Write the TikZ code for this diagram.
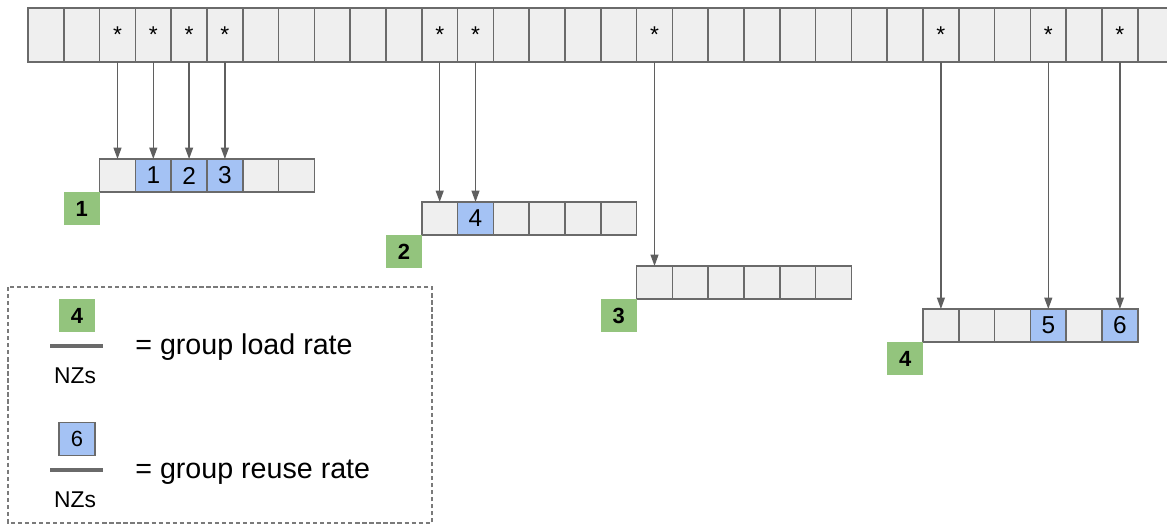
\documentclass[tikz,border=0pt]{standalone}
\usepackage{fontspec}
\setmainfont{Liberation Sans}
\usetikzlibrary{arrows.meta,positioning}
\definecolor{cCell}{HTML}{EFEFEF}
\definecolor{cEdge}{HTML}{6A6A6A}
\definecolor{cNZ}{HTML}{A4C2F4}
\definecolor{cGroup}{HTML}{93C47D}
\definecolor{cArrow}{HTML}{5F5F5F}
\definecolor{cFrame}{HTML}{7A7A7A}

\tikzset{
  cell/.style={draw=cEdge, fill=cCell, line width=0.85pt, inner sep=0pt,
    outer sep=0pt, minimum width=0.716cm},
  topcell/.style={cell, minimum height=1.08cm},
  grpcell/.style={cell, minimum height=0.66cm, font=\fontsize{13.9}{14}\selectfont},
  nzcell/.style={grpcell, fill=cNZ},
  starmark/.style={inner sep=0pt, font=\fontsize{13}{13}\selectfont},
  badge/.style={fill=cGroup, inner sep=0pt, outer sep=0pt, minimum width=0.716cm,
    minimum height=0.66cm, font=\fontsize{12.5}{12.5}\selectfont\bfseries},
  fetch/.style={draw=cArrow, line width=0.85pt, -{Triangle[width=4.5pt,length=6.5pt]}},
  keytext/.style={anchor=base west, inner sep=0pt, font=\fontsize{16.3}{17}\selectfont},
  nzs/.style={anchor=base, inner sep=0pt, font=\fontsize{13}{13}\selectfont},
}

\begin{document}
\begin{tikzpicture}[x=0.02cm, y=-0.02cm]

  % ---- page frame (1 unit = 1 px of the reference) ----
  \clip (0,0) rectangle (1167,525);

  % ---- input row: 32 cells, left edge x=28, runs off the right edge ----
  \foreach \i in {0,...,31}{
    \node[topcell] (t\i) at ({28+35.8*\i+17.9}, 35) {};
  }
  \foreach \i in {2,3,4,5,11,12,17,25,28,30}{
    \node[starmark] (s\i) at (t\i) {*};
  }

  % ---- groups: id / first input column / row centre ----
  \foreach \g/\s/\cy in {1/2/175.5, 2/11/218.5, 3/17/282.5, 4/25/325.5}{
    \foreach \i in {0,...,5}{
      \node[grpcell] (g\g-\i) at ({28+35.8*(\s+\i)+17.9}, \cy) {};
    }
    \node[badge, anchor=north east] (b\g) at (g\g-0.south west) {\g};
  }

  % ---- reused entries (blue) ----
  \foreach \n/\g/\i in {1/1/1, 2/1/2, 3/1/3, 4/2/1, 5/4/3, 6/4/5}{
    \node[nzcell] (n\n) at (g\g-\i) {\n};
  }

  % ---- loads: input column -> group / cell ----
  \foreach \t/\g/\i in {2/1/0, 3/1/1, 4/1/2, 5/1/3, 11/2/0, 12/2/1,
                        17/3/0, 25/4/0, 28/4/3, 30/4/5}{
    \draw[fetch] (t\t) -- (g\g-\i);
  }

  % ---- legend (bottom left) ----
  \draw[cFrame, line width=0.6pt, dash pattern=on 2.4pt off 1.6pt]
    (8,287) rectangle (432,523);

  \node[badge] (kl) at (77,315.5) {4};
  \draw[cEdge, line width=2.4pt] (50,346) -- (103,346);
  \node[nzs] (kln) at (75,383.5) {NZs};
  \node[keytext] (klt) at (135,354) {= group load rate};

  \node[badge, fill=cNZ, draw=cEdge, line width=0.85pt,
    font=\fontsize{12.5}{12.5}\selectfont] (kr) at (77,439) {6};
  \draw[cEdge, line width=2.4pt] (50,470) -- (103,470);
  \node[nzs] (krn) at (75,507.5) {NZs};
  \node[keytext] (krt) at (135,478) {= group reuse rate};

\end{tikzpicture}
\end{document}
